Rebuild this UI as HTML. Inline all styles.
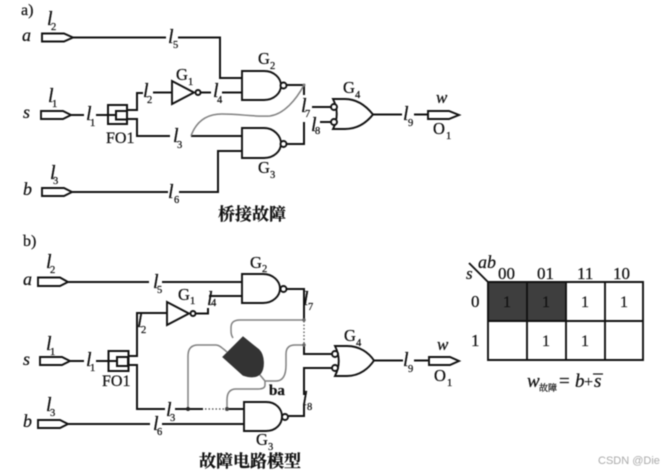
<!DOCTYPE html>
<html><head><meta charset="utf-8"><style>
html,body{margin:0;padding:0;background:#fff;width:669px;height:474px;overflow:hidden}
svg{display:block;filter:blur(.4px)}
text{font-family:"Liberation Serif","Noto Serif CJK SC",serif;fill:#111;stroke:#111;stroke-width:.25}
.i{font-style:italic}
.l{font-style:italic;font-size:20px}
.n{font-size:10.500px}
.g{font-size:16.500px}
.p{font-style:italic;font-size:18px}
.c{font-size:17px;font-weight:bold}
.w{fill:none;stroke:#111;stroke-width:2}
.y{fill:none;stroke:#808080;stroke-width:1.500}
.t{fill:#fff;stroke:#111;stroke-width:1.900}
</style></head><body>
<svg width="669" height="474" viewBox="0 0 669 474" xmlns="http://www.w3.org/2000/svg">
<rect width="669" height="474" fill="#fff"/>

<!-- a) -->
<text x="21" y="15" font-size="16">a)</text>
<path class="t" d="M42 33.500H64L73 37.500L64 41.500H42Z"/>
<path class="t" d="M41 111H63L71 115L63 119H41Z"/>
<path class="t" d="M42 188H64L72 192L64 196H42Z"/>
<path class="w" d="M73 37.500H166M178 37.500H220V78H242"/>
<path class="w" d="M71 115H84M96 115H116"/>
<rect class="w" x="108" y="105" width="19" height="19"/>
<rect class="w" x="116" y="111" width="11" height="8.500"/>
<path class="w" d="M127 110H137V93H143M153 92.500H172"/>
<path class="w" d="M127 119H137V136H170M191 136H242"/>
<path class="t" d="M172 81L194 92.500L172 104Z"/>
<circle class="t" cx="198" cy="92.500" r="2.500"/>
<path class="w" d="M201 92.500H211M222 92.500H242"/>
<path class="w" d="M72 192H168M179 192H218V151H242"/>
<path class="t" d="M242 71H264C274 71 281 78 281 85.500C281 93 274 100 264 100H242Z"/>
<circle class="t" cx="283.500" cy="85.500" r="3"/>
<path class="w" d="M287 85H304V95"/>
<path class="t" d="M242 128H264C274 128 281 136 281 143.500C281 151 274 158 264 158H242Z"/>
<circle class="t" cx="283.500" cy="144" r="3"/>
<path class="w" d="M287 144H304V122"/>
<path class="y" d="M191 136C196 122 206 114 222 114C240 114 256 117 270 116C284 114 296 100 304 85"/>
<circle cx="304" cy="85" r="1.500" fill="#777"/>
<path class="w" d="M312 107H331M320 122H331"/>
<path class="t" d="M333 99H345C358 99 367 107 373 114.500C367 122 358 129 345 129H333C338 119 338 109 333 99Z"/>
<circle class="t" cx="334" cy="107" r="3"/>
<circle class="t" cx="334" cy="122" r="3"/>
<path class="w" d="M373 114.500H402M414 114.500H428"/>
<path class="t" d="M428 111H449L459 115L449 119H428Z"/>

<text class="l" x="47" y="25">l</text><text class="n" x="51" y="30">2</text>
<text class="p" x="22" y="41">a</text>
<text class="l" x="48" y="102">l</text><text class="n" x="52" y="107">1</text>
<text class="p" x="23" y="118">s</text>
<text class="l" x="50" y="179">l</text><text class="n" x="53" y="184">3</text>
<text class="p" x="23" y="195">b</text>
<text class="l" x="168" y="43">l</text><text class="n" x="173" y="48">5</text>
<text class="l" x="86" y="120">l</text><text class="n" x="90" y="126">1</text>
<text class="l" x="143" y="97">l</text><text class="n" x="147" y="103">2</text>
<text class="l" x="213" y="97">l</text><text class="n" x="217" y="103">4</text>
<text class="l" x="173" y="142">l</text><text class="n" x="177" y="148">3</text>
<text class="l" x="168" y="198">l</text><text class="n" x="174" y="203">6</text>
<text x="106" y="143" font-size="16">FO1</text>
<text class="g" x="176" y="80">G</text><text class="n" x="188" y="85">1</text>
<text class="g" x="258" y="64">G</text><text class="n" x="270" y="69">2</text>
<text class="g" x="258" y="173">G</text><text class="n" x="270" y="178">3</text>
<text class="g" x="343" y="93">G</text><text class="n" x="355" y="98">4</text>
<text class="l" x="301" y="112">l</text><text class="n" x="305" y="117">7</text>
<text class="l" x="311" y="131">l</text><text class="n" x="315" y="134">8</text>
<text class="l" x="403" y="120">l</text><text class="n" x="408" y="126">9</text>
<text class="i" x="436" y="103" font-size="17">w</text>
<text class="g" x="433" y="134">O</text><text class="n" x="446" y="139">1</text>
<text class="c" x="218" y="220">桥接故障</text>

<!-- b) -->
<text x="23" y="246" font-size="16">b)</text>
<path class="t" d="M38 277.500H60L68 282L60 286H38Z"/>
<path class="t" d="M40 357H62L70 361L62 365H40Z"/>
<path class="t" d="M38 420H60L68 424L60 428H38Z"/>
<path class="w" d="M68 282H149M162 282H242"/>
<path class="w" d="M70 361H84M96 361H117"/>
<rect class="w" x="108.500" y="351" width="20" height="20"/>
<rect class="w" x="117" y="357" width="11" height="9"/>
<path class="w" d="M128 356H137V313H167"/>
<path class="t" d="M167 302L189 313.500L167 325Z"/>
<circle class="t" cx="193" cy="313.500" r="2.500"/>
<path class="w" d="M196 313.500H208V308M209 296H242"/>
<path class="w" d="M128 365H137V409H165M175 409H203M228 409H244"/>
<path stroke="#444" stroke-width="1.300" stroke-dasharray="1.500 2" fill="none" d="M205 409H227"/>
<path class="w" d="M68 424H150M162 424H244"/>
<path class="t" d="M242 274H263C273 274 280 281 280 288.500C280 296 273 303 263 303H242Z"/>
<circle class="t" cx="283.500" cy="289" r="3"/>
<path class="w" d="M287 289H304V320"/>
<path stroke="#555" stroke-width="1.300" stroke-dasharray="1.500 2" fill="none" d="M304 321V344"/>
<path class="w" d="M304 345V354H333M333 368H304V395M304 404V416H288"/>
<path class="t" d="M244 402H266C276 402 282 409 282 416.500C282 424 276 431 266 431H244Z"/>
<circle class="t" cx="285" cy="417" r="3"/>
<path class="y" d="M304 320H240C233 320 231 323 231 328C231 333 231 335 233 338"/>
<path class="y" d="M188 409V356C188 349 191 345 198 345H216C220 345 223 349 227 352"/>
<path class="y" d="M260 375L265 381C268 381 272 381 276 381C283 381 286 375 286 365V354C286 348 289 345 295 345H304"/>
<path class="y" d="M265 381V385C265 388 262 389 258 389H236C230 389 227 393 227 400V409"/>
<path d="M223 357L243 337L259 350C264 355 265 368 260 374C255 378 249 377 243 375Z" fill="#333" stroke="#333" stroke-width="1.200"/>
<circle cx="188" cy="409" r="2" fill="#222"/>
<circle cx="227" cy="409" r="2" fill="#444"/>
<circle cx="304" cy="320" r="1.700" fill="#666"/>
<circle cx="304" cy="345" r="1.700" fill="#666"/>
<path class="t" d="M335 346H347C360 346 369 353 374 360.500C369 368 360 376 347 376H335C340 366 340 356 335 346Z"/>
<circle class="t" cx="335" cy="354" r="3"/>
<circle class="t" cx="335" cy="368" r="3"/>
<path class="w" d="M374 360.500H403M414 360.500H428"/>
<path class="t" d="M429 357H450L459 361L450 365H429Z"/>

<text class="l" x="46" y="268">l</text><text class="n" x="50" y="273">2</text>
<text class="p" x="23" y="285">a</text>
<text class="l" x="46" y="350">l</text><text class="n" x="50" y="355">1</text>
<text class="p" x="23" y="365">s</text>
<text class="l" x="46" y="411">l</text><text class="n" x="50" y="416">3</text>
<text class="p" x="23" y="427">b</text>
<text class="l" x="153" y="288">l</text><text class="n" x="157" y="293">5</text>
<text class="l" x="86" y="366">l</text><text class="n" x="90" y="371">1</text>
<text class="l" x="137" y="327">l</text><text class="n" x="141" y="333">2</text>
<text class="l" x="207" y="305">l</text><text class="n" x="211" y="306">4</text>
<text class="l" x="166" y="416">l</text><text class="n" x="170" y="421">3</text>
<text class="l" x="153" y="430">l</text><text class="n" x="157" y="435">6</text>
<text x="102" y="386" font-size="16">FO1</text>
<text class="g" x="178" y="300">G</text><text class="n" x="190" y="304">1</text>
<text class="g" x="250" y="268">G</text><text class="n" x="262" y="272">2</text>
<text class="g" x="256" y="445">G</text><text class="n" x="268" y="450">3</text>
<text class="g" x="344" y="341">G</text><text class="n" x="356" y="346">4</text>
<text class="l" x="303" y="305">l</text><text class="n" x="308" y="310">7</text>
<text class="l" x="302" y="405">l</text><text class="n" x="307" y="410">8</text>
<text class="l" x="403" y="366">l</text><text class="n" x="408" y="372">9</text>
<text class="i" x="437" y="350" font-size="17">w</text>
<text class="g" x="434" y="381">O</text><text class="n" x="447" y="386">1</text>
<text x="269" y="395" font-size="15" font-weight="bold">ba</text>
<text class="c" x="199" y="467">故障电路模型</text>

<!-- K-map -->
<rect x="488" y="282" width="78" height="39" fill="#3e3e3e"/>
<path d="M488 282H643V360H488ZM527 282V360M566 282V360M605 282V360M488 321H643M469 263L488 282" fill="none" stroke="#111" stroke-width="1.900"/>
<text class="i" x="478" y="268" font-size="18">ab</text>
<text class="i" x="466" y="279" font-size="17">s</text>
<g font-size="17">
<text x="498" y="279">00</text><text x="537" y="279">01</text><text x="577" y="279">11</text><text x="613" y="279">10</text>
<text x="471" y="307">0</text><text x="471" y="346">1</text>
</g>
<g font-size="16">
<text x="503" y="307">1</text><text x="542" y="307">1</text><text x="581" y="307">1</text><text x="620" y="307">1</text>
<text x="542" y="346">1</text><text x="581" y="346">1</text>
</g>
<text class="i" x="527" y="387" font-size="19">w</text>
<text x="539" y="391" font-size="9">故障</text>
<text x="559" y="387" font-size="19">=</text>
<text class="i" x="575" y="387" font-size="19">b</text>
<text x="584" y="387" font-size="16">+</text>
<text class="i" x="594" y="387" font-size="19">s</text>
<path d="M593 374H603" stroke="#111" stroke-width="1.200"/>
<text x="598" y="464" style="font-family:'Liberation Sans',sans-serif;fill:#aaa;stroke:none" font-size="11">CSDN @Die</text>
</svg>
</body></html>
